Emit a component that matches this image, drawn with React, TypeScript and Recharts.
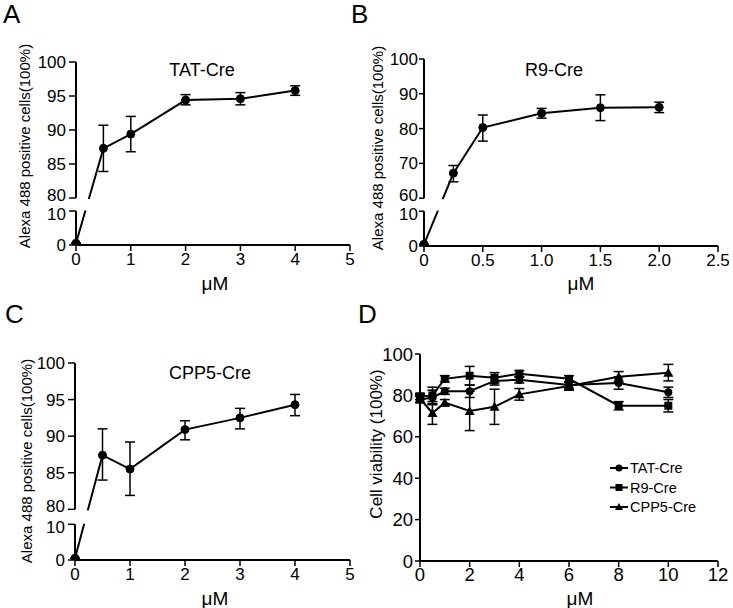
import React from "react";
import {
  LineChart,
  Line,
  XAxis,
  YAxis,
  ErrorBar,
  ReferenceLine,
  ReferenceArea,
} from "recharts";

const FONT = '"Liberation Sans", Arial, Helvetica, sans-serif';

/* A: TAT-Cre uptake */
const tatX = [0, 0.5, 1, 2, 3, 4];
const tatMean = [0.5, 87.3, 89.4, 94.4, 94.6, 95.8];
const tatLow = [0.5, 83.9, 86.8, 93.7, 93.7, 95.1];
const tatHigh = [0.5, 90.7, 92.0, 95.2, 95.5, 96.5];

/* B: R9-Cre uptake */
const r9X = [0, 0.25, 0.5, 1.0, 1.5, 2.0];
const r9Mean = [0.5, 67.2, 80.3, 84.4, 86.0, 86.1];
const r9Low = [0.5, 64.7, 76.4, 83.0, 82.3, 84.6];
const r9High = [0.5, 69.4, 83.9, 85.8, 89.7, 87.6];

/* C: CPP5-Cre uptake */
const cppX = [0, 0.5, 1, 2, 3, 4];
const cppMean = [0.5, 87.4, 85.5, 90.9, 92.5, 94.3];
const cppLow = [0.5, 84.0, 81.9, 89.5, 91.0, 92.8];
const cppHigh = [0.5, 91.0, 89.2, 92.1, 93.8, 95.7];

/* D: cell viability */
const vX = [0, 0.5, 1, 2, 3, 4, 6, 8, 10];
const vTat = [78, 79, 82, 82, 87, 87.5, 85, 86, 81.5];
const vTatErr = [1.5, 3.5, 1.5, 3, 2, 1.5, 1.5, 3, 2.5];
const vR9 = [79.5, 80, 88, 89.5, 88.5, 90.5, 88, 75, 75];
const vR9Err = [1.5, 4, 1.5, 4.5, 2.5, 1.5, 1.5, 2, 3];
const vCpp = [78.5, 71.5, 76.5, 72.5, 74.5, 80.5, 84.5, 89, 91];
const vCppErr = [2, 5.5, 1.5, 9.5, 8.5, 2.8, 2, 2.5, 4];

const xTicks5 = [0, 1, 2, 3, 4, 5];
const xTicksB = [0, 0.5, 1, 1.5, 2, 2.5];
const xTicksD = [0, 2, 4, 6, 8, 10, 12];
const yTicksA = [0, 10, 80, 85, 90, 95, 100];
const yTicksB = [0, 10, 60, 70, 80, 90, 100];
const yTicksD = [0, 20, 40, 60, 80, 100];

const axisStroke = { stroke: "#000", strokeWidth: 2 };
const tickStroke = { stroke: "#000", strokeWidth: 1.5 };
const tickText = { fill: "#000", fontSize: 17, fontFamily: FONT };

interface BrokenProps {
  left: number;
  top: number;
  width: number;
  height: number;
  plotL: number;
  plotT: number;
  plotR: number;
  plotB: number;
  xs: number[];
  mean: number[];
  low: number[];
  high: number[];
  xDomain: [number, number];
  xTicks: number[];
  xFmt: (v: number) => string;
  yTicks: number[];
  lowTop: number;
  highBottom: number;
  gap: number;
  factor: number;
  yTickSize: number;
  yTickMargin: number;
  maskX: number;
}

// panel with a broken y axis: 0..lowTop at the bottom, highBottom..top above a gap
function BrokenPanel(p: BrokenProps) {
  const d = (v: number) =>
    v <= p.lowTop ? v : p.lowTop + p.gap + (v - p.highBottom) * p.factor;
  const rows = p.xs.map((x, i) => {
    const y = d(p.mean[i]);
    return { x, y, err: [y - d(p.low[i]), d(p.high[i]) - y] };
  });
  const yTickVals = p.yTicks.map(d);
  const dTop = yTickVals[yTickVals.length - 1];
  const dBreak = d(p.highBottom);
  const labelIdx = (v: number) => {
    let best = 0;
    yTickVals.forEach((t, i) => {
      if (Math.abs(t - v) < Math.abs(yTickVals[best] - v)) best = i;
    });
    return best;
  };

  // labels on either side of the break sit a little apart, as in the figure
  const renderYTick = (props: any) => {
    const { x, y, payload } = props;
    const real = p.yTicks[labelIdx(payload.value)];
    const shift = real === p.lowTop ? 2.5 : real === p.highBottom ? -3 : 0;
    return (
      <text
        x={x}
        y={y + shift}
        dy="0.355em"
        textAnchor="end"
        fill="#000"
        fontSize={17}
        fontFamily={FONT}
      >
        {real}
      </text>
    );
  };

  return (
    <div style={{ position: "absolute", left: p.left, top: p.top }}>
      <LineChart
        width={p.width}
        height={p.height}
        data={rows}
        margin={{
          top: p.plotT - p.top,
          right: p.left + p.width - p.plotR,
          bottom: 0,
          left: 0,
        }}
      >
        <XAxis
          type="number"
          dataKey="x"
          domain={p.xDomain}
          ticks={p.xTicks}
          interval={0}
          tickFormatter={p.xFmt}
          height={p.top + p.height - p.plotB}
          axisLine={axisStroke}
          tickLine={tickStroke}
          tickSize={6}
          tickMargin={2}
          tick={tickText}
        />
        <YAxis
          type="number"
          domain={[0, dTop]}
          ticks={yTickVals}
          interval={0}
          allowDataOverflow
          width={p.plotL - p.left}
          axisLine={false}
          tickLine={tickStroke}
          tickSize={p.yTickSize}
          tickMargin={p.yTickMargin}
          tick={renderYTick}
        />
        <Line
          dataKey="y"
          stroke="#000"
          strokeWidth={2}
          dot={{ r: 4, fill: "#000", stroke: "#000", strokeWidth: 1 }}
          isAnimationActive={false}
        >
          <ErrorBar dataKey="err" width={5} stroke="#000" strokeWidth={1.5} />
        </Line>
        {/* white band hides the line inside the axis break */}
        <ReferenceArea
          x1={0}
          x2={p.maskX}
          y1={p.lowTop + 0.15}
          y2={dBreak - 0.3}
          fill="#fff"
          fillOpacity={1}
          stroke="none"
          ifOverflow="visible"
          zIndex={450}
        />
        <ReferenceLine
          segment={[
            { x: 0, y: 0 },
            { x: 0, y: p.lowTop },
          ]}
          stroke="#000"
          strokeWidth={2}
          ifOverflow="visible"
          zIndex={500}
        />
        <ReferenceLine
          segment={[
            { x: 0, y: dBreak },
            { x: 0, y: dTop },
          ]}
          stroke="#000"
          strokeWidth={2}
          ifOverflow="visible"
          zIndex={500}
        />
      </LineChart>
    </div>
  );
}

const circleDot = (props: any) => {
  const { cx, cy, key } = props;
  if (cx == null || cy == null) return <g key={key} />;
  return <circle key={key} cx={cx} cy={cy} r={4} fill="#000" />;
};
const squareDot = (props: any) => {
  const { cx, cy, key } = props;
  if (cx == null || cy == null) return <g key={key} />;
  return <rect key={key} x={cx - 4} y={cy - 4} width={8} height={8} fill="#000" />;
};
const triangleDot = (props: any) => {
  const { cx, cy, key } = props;
  if (cx == null || cy == null) return <g key={key} />;
  return (
    <polygon
      key={key}
      points={`${cx},${cy - 5} ${cx + 5},${cy + 4} ${cx - 5},${cy + 4}`}
      fill="#000"
    />
  );
};

function ViabilityPanel() {
  const rows = vX.map((x, i) => ({
    x,
    tat: vTat[i],
    tatErr: vTatErr[i],
    r9: vR9[i],
    r9Err: vR9Err[i],
    cpp: vCpp[i],
    cppErr: vCppErr[i],
  }));
  const bigTick = { ...tickText, fontSize: 18.5 };
  return (
    <div style={{ position: "absolute", left: 370, top: 300 }}>
      <LineChart
        width={363}
        height={308}
        data={rows}
        margin={{ top: 54, right: 15, bottom: 0, left: 0 }}
      >
        <XAxis
          type="number"
          dataKey="x"
          domain={[0, 12]}
          ticks={xTicksD}
          interval={0}
          height={47}
          axisLine={axisStroke}
          tickLine={tickStroke}
          tickSize={6}
          tickMargin={1}
          tick={bigTick}
        />
        <YAxis
          type="number"
          domain={[0, 100]}
          ticks={yTicksD}
          interval={0}
          width={50}
          axisLine={axisStroke}
          tickLine={tickStroke}
          tickSize={5}
          tickMargin={2}
          tick={bigTick}
        />
        <Line dataKey="cpp" stroke="#000" strokeWidth={2} dot={triangleDot} isAnimationActive={false}>
          <ErrorBar dataKey="cppErr" width={5} stroke="#000" strokeWidth={1.5} />
        </Line>
        <Line dataKey="tat" stroke="#000" strokeWidth={2} dot={circleDot} isAnimationActive={false}>
          <ErrorBar dataKey="tatErr" width={5} stroke="#000" strokeWidth={1.5} />
        </Line>
        <Line dataKey="r9" stroke="#000" strokeWidth={2} dot={squareDot} isAnimationActive={false}>
          <ErrorBar dataKey="r9Err" width={5} stroke="#000" strokeWidth={1.5} />
        </Line>
      </LineChart>
    </div>
  );
}

const legendItems = [
  { name: "TAT-Cre", shape: "circle" },
  { name: "R9-Cre", shape: "square" },
  { name: "CPP5-Cre", shape: "triangle" },
];

function Overlay() {
  const letter = { fontSize: 26, fontFamily: FONT, fill: "#000" };
  const title = { fontSize: 18, fontFamily: FONT, fill: "#000", textAnchor: "middle" as const };
  const unit = { fontSize: 19, fontFamily: FONT, fill: "#000", textAnchor: "middle" as const };
  const ylab = {
    fontSize: 15,
    fontFamily: FONT,
    fill: "#000",
    textAnchor: "middle" as const,
    dominantBaseline: "central" as const,
  };
  return (
    <svg
      width={733}
      height={608}
      style={{ position: "absolute", left: 0, top: 0, pointerEvents: "none" }}
    >
      <text x={3} y={23} {...letter}>A</text>
      <text x={351} y={23} {...letter}>B</text>
      <text x={5} y={323} {...letter}>C</text>
      <text x={358} y={323} {...letter}>D</text>

      <text x={202} y={76} {...title}>TAT-Cre</text>
      <text x={554} y={76} {...title}>R9-Cre</text>
      <text x={210} y={379} {...title}>CPP5-Cre</text>

      <text x={215} y={290} {...unit}>μM</text>
      <text x={581} y={290} {...unit}>μM</text>
      <text x={215} y={605} {...unit}>μM</text>
      <text x={580} y={605} {...unit}>μM</text>

      <text transform="translate(24,146) rotate(-90)" {...ylab}>Alexa 488 positive cells(100%)</text>
      <text transform="translate(377,148) rotate(-90)" {...ylab}>Alexa 488 positive cells(100%)</text>
      <text transform="translate(26,461) rotate(-90)" {...ylab}>Alexa 488 positive cells(100%)</text>
      <text transform="translate(376,444) rotate(-90)" {...ylab} fontSize={17}>Cell viability (100%)</text>

      {legendItems.map((it, i) => {
        const y = 468 + i * 19.5;
        const cx = 619;
        return (
          <g key={it.name}>
            <line x1={610} x2={628} y1={y} y2={y} stroke="#000" strokeWidth={2} />
            {it.shape === "circle" && <circle cx={cx} cy={y} r={3.5} fill="#000" />}
            {it.shape === "square" && <rect x={cx - 3.5} y={y - 3.5} width={7} height={7} fill="#000" />}
            {it.shape === "triangle" && (
              <polygon points={`${cx},${y - 4} ${cx + 4},${y + 3} ${cx - 4},${y + 3}`} fill="#000" />
            )}
            <text x={630} y={y} fontSize={14.5} fontFamily={FONT} fill="#000" dominantBaseline="central">
              {it.name}
            </text>
          </g>
        );
      })}
    </svg>
  );
}

export default function App() {
  return (
    <div
      style={{
        position: "absolute",
        left: 0,
        top: 0,
        width: 733,
        height: 608,
        background: "#fff",
        overflow: "hidden",
      }}
    >
      <BrokenPanel
        left={0}
        top={0}
        width={370}
        height={300}
        plotL={76}
        plotT={62}
        plotR={350}
        plotB={245}
        xs={tatX}
        mean={tatMean}
        low={tatLow}
        high={tatHigh}
        xDomain={[0, 5]}
        xTicks={xTicks5}
        xFmt={(v) => String(v)}
        yTicks={yTicksA}
        lowTop={10}
        highBottom={80}
        gap={3.82}
        factor={2}
        yTickSize={7}
        yTickMargin={3}
        maskX={0.4}
      />
      <BrokenPanel
        left={370}
        top={0}
        width={363}
        height={300}
        plotL={424}
        plotT={59}
        plotR={718}
        plotB={246}
        xs={r9X}
        mean={r9Mean}
        low={r9Low}
        high={r9High}
        xDomain={[0, 2.5]}
        xTicks={xTicksB}
        xFmt={(v) => (v === 0 ? "0" : v.toFixed(1))}
        yTicks={yTicksB}
        lowTop={10}
        highBottom={60}
        gap={3.74}
        factor={1}
        yTickSize={5}
        yTickMargin={1}
        maskX={0.2}
      />
      <BrokenPanel
        left={0}
        top={300}
        width={370}
        height={308}
        plotL={75}
        plotT={363}
        plotR={350}
        plotB={560}
        xs={cppX}
        mean={cppMean}
        low={cppLow}
        high={cppHigh}
        xDomain={[0, 5]}
        xTicks={xTicks5}
        xFmt={(v) => String(v)}
        yTicks={yTicksA}
        lowTop={10}
        highBottom={80}
        gap={4.2}
        factor={2.05}
        yTickSize={7}
        yTickMargin={3}
        maskX={0.4}
      />
      <ViabilityPanel />
      <Overlay />
    </div>
  );
}
